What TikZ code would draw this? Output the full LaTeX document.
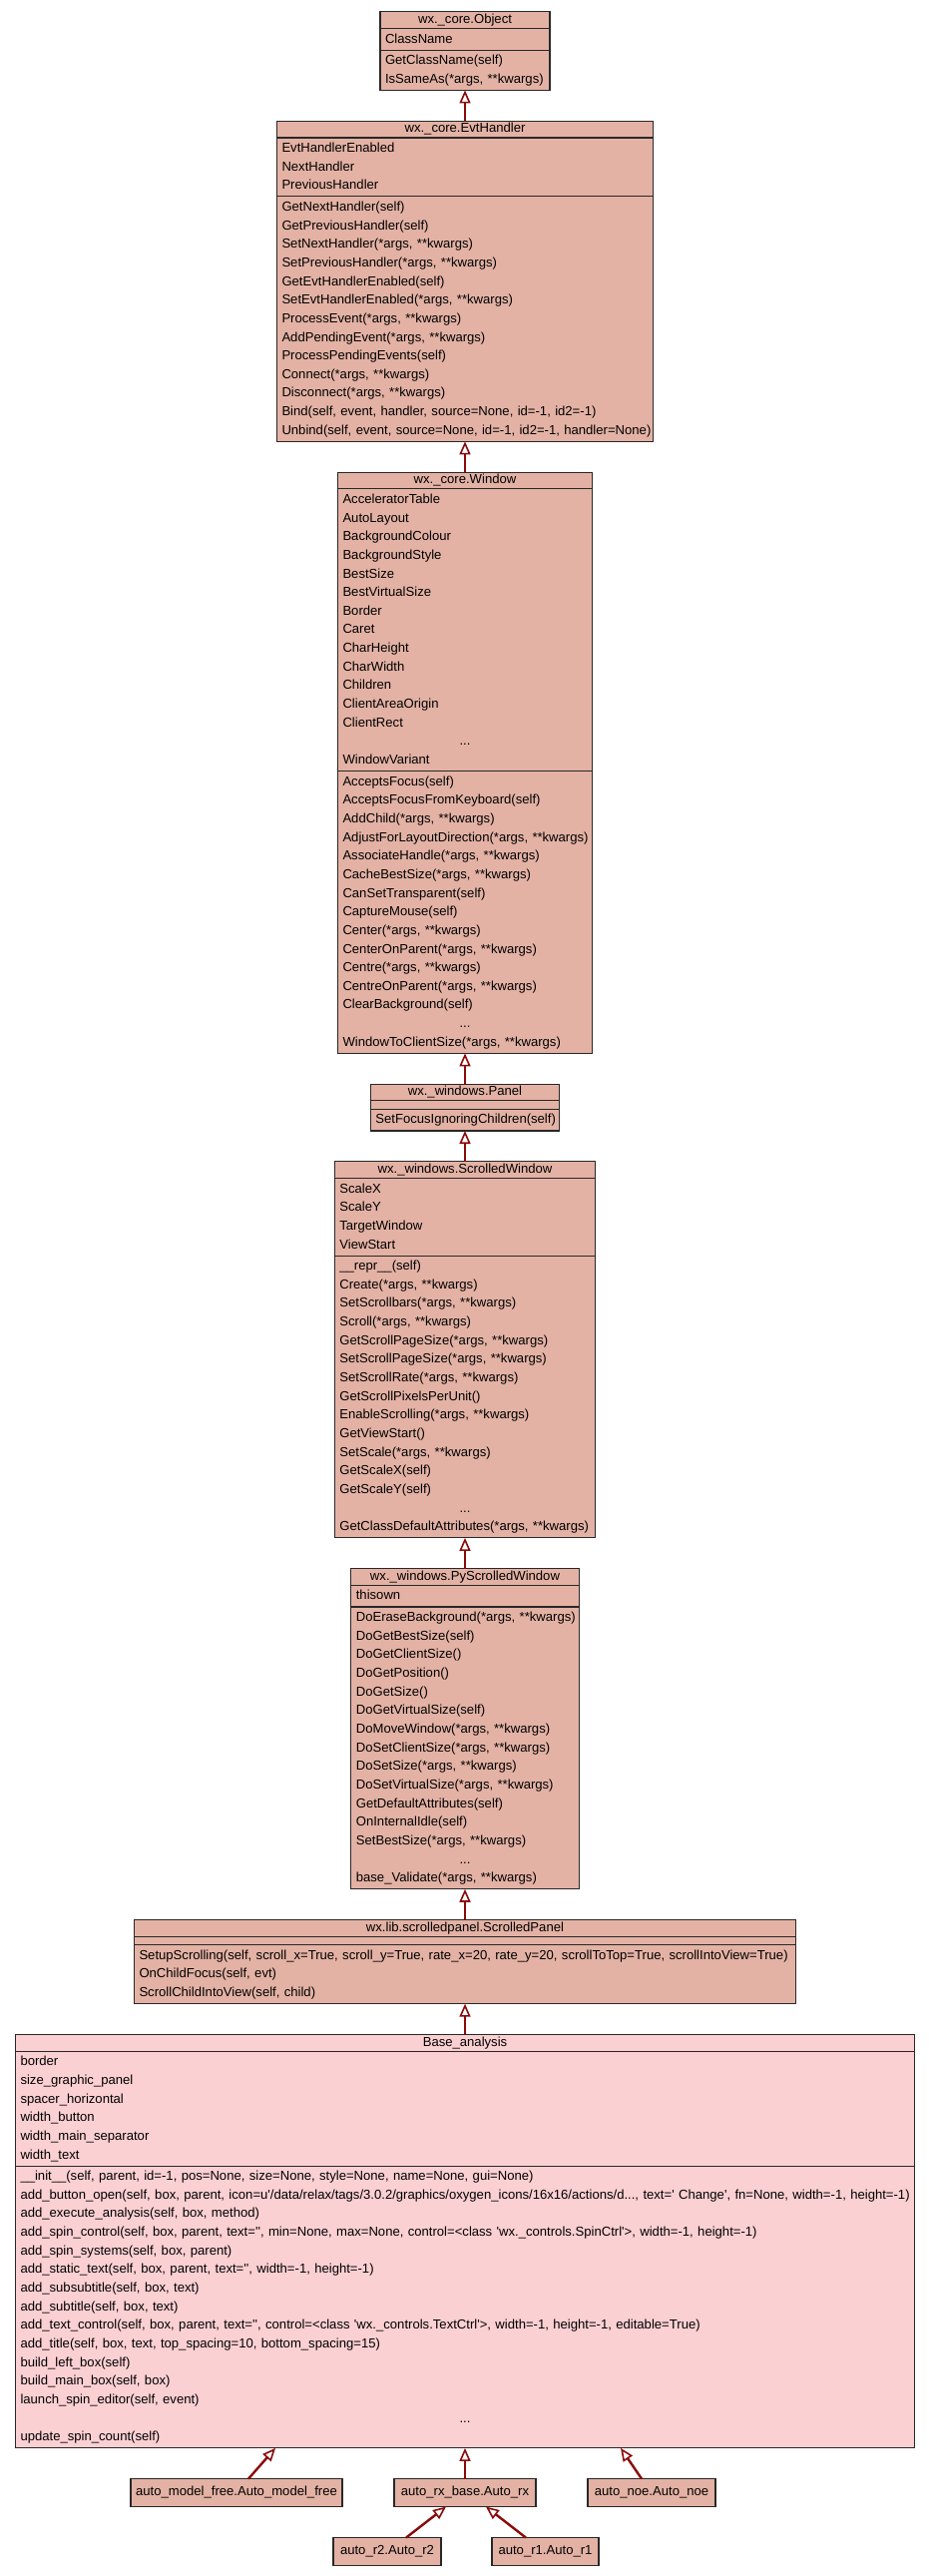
\documentclass[tikz,border=0pt]{standalone}
\usepackage{fontspec}
\newfontfamily\umlfont{Liberation Sans}
\usetikzlibrary{arrows.meta,positioning}
\definecolor{classfill}{RGB}{227,178,164}
\definecolor{basefill}{RGB}{251,208,211}
\definecolor{inhred}{RGB}{139,10,10}
\definecolor{edge}{RGB}{40,40,40}
\newcommand{\akw}{(*args, **kwargs)}
\newcommand{\elide}{\makebox[\hsize]{...}}
\tikzset{
  cls/.style={draw=edge,line width=1.1pt,fill=classfill,inner xsep=5pt,inner ysep=0pt,outer sep=0pt,font=\umlfont\fontsize{13.1}{18.65}\selectfont},
  ctitle/.style={cls,minimum height=16.8pt,text height=9.5pt,text depth=3pt},
  cempty/.style={cls,minimum height=8.5pt},
  cbody/.style={cls,execute at begin node={\parindent=0pt\rightskip=-30pt plus 1fil\relax\leavevmode\strut},execute at end node={\strut}},
  leaf/.style={cls,minimum height=28pt,text height=9.5pt,text depth=3pt},
  base/.style={fill=basefill},
  inh/.style={draw=inhred,line width=2.4pt,-{Triangle[open,length=13pt,width=11pt,line width=1.6pt]}}
}

\begin{document}
\begin{tikzpicture}[x=1pt,y=-1pt,node distance=30.7pt]
  \useasboundingbox (0,0) rectangle (931,2581);
  % wx._core.Object
  \node[ctitle,minimum width=170pt,anchor=north] (objt) at (466,11.7) {wx.\_core.Object};
  \node[cbody,text width=160pt,minimum height=21.65pt,below=0pt of objt] (obja) {ClassName};
  \node[cbody,text width=160pt,minimum height=40.3pt,below=0pt of obja] (objm) {GetClassName(self)\\IsSameAs\akw};
  % wx._core.EvtHandler
  \node[ctitle,minimum width=377pt,below=of objm] (evtt) {wx.\_core.EvtHandler};
  \node[cbody,text width=367pt,minimum height=58.95pt,below=0pt of evtt] (evta) {EvtHandlerEnabled\\NextHandler\\PreviousHandler};
  \node[cbody,text width=367pt,minimum height=245.45pt,below=0pt of evta] (evtm) {GetNextHandler(self)\\GetPreviousHandler(self)\\SetNextHandler\akw\\SetPreviousHandler\akw\\GetEvtHandlerEnabled(self)\\SetEvtHandlerEnabled\akw\\ProcessEvent\akw\\AddPendingEvent\akw\\ProcessPendingEvents(self)\\Connect\akw\\Disconnect\akw\\Bind(self, event, handler, source=None, id=-1, id2=-1)\\Unbind(self, event, source=None, id=-1, id2=-1, handler=None)};
  % wx._core.Window
  \node[ctitle,minimum width=255pt,below=of evtm] (wint) {wx.\_core.Window};
  \node[cbody,text width=245pt,minimum height=282.75pt,below=0pt of wint] (wina) {AcceleratorTable\\AutoLayout\\BackgroundColour\\BackgroundStyle\\BestSize\\BestVirtualSize\\Border\\Caret\\CharHeight\\CharWidth\\Children\\ClientAreaOrigin\\ClientRect\\\elide\\WindowVariant};
  \node[cbody,text width=245pt,minimum height=282.75pt,below=0pt of wina] (winm) {AcceptsFocus(self)\\AcceptsFocusFromKeyboard(self)\\AddChild\akw\\AdjustForLayoutDirection\akw\\AssociateHandle\akw\\CacheBestSize\akw\\CanSetTransparent(self)\\CaptureMouse(self)\\Center\akw\\CenterOnParent\akw\\Centre\akw\\CentreOnParent\akw\\ClearBackground(self)\\\elide\\WindowToClientSize\akw};
  % wx._windows.Panel
  \node[ctitle,minimum width=189.3pt,below=of winm] (pnlt) {wx.\_windows.Panel};
  \node[cempty,minimum width=189.3pt,below=0pt of pnlt] (pnla) {};
  \node[cbody,text width=179.3pt,minimum height=21.65pt,below=0pt of pnla] (pnlm) {SetFocusIgnoringChildren(self)};
  % wx._windows.ScrolledWindow
  \node[ctitle,minimum width=261.3pt,below=of pnlm] (swt) {wx.\_windows.ScrolledWindow};
  \node[cbody,text width=251.3pt,minimum height=77.6pt,below=0pt of swt] (swa) {ScaleX\\ScaleY\\TargetWindow\\ViewStart};
  \node[cbody,text width=251.3pt,minimum height=282.75pt,below=0pt of swa] (swm) {\_\_repr\_\_(self)\\Create\akw\\SetScrollbars\akw\\Scroll\akw\\GetScrollPageSize\akw\\SetScrollPageSize\akw\\SetScrollRate\akw\\GetScrollPixelsPerUnit()\\EnableScrolling\akw\\GetViewStart()\\SetScale\akw\\GetScaleX(self)\\GetScaleY(self)\\\elide\\GetClassDefaultAttributes\akw};
  % wx._windows.PyScrolledWindow
  \node[ctitle,minimum width=228.3pt,below=of swm] (pswt) {wx.\_windows.PyScrolledWindow};
  \node[cbody,text width=218.3pt,minimum height=21.65pt,below=0pt of pswt] (pswa) {thisown};
  \node[cbody,text width=218.3pt,minimum height=282.75pt,below=0pt of pswa] (pswm) {DoEraseBackground\akw\\DoGetBestSize(self)\\DoGetClientSize()\\DoGetPosition()\\DoGetSize()\\DoGetVirtualSize(self)\\DoMoveWindow\akw\\DoSetClientSize\akw\\DoSetSize\akw\\DoSetVirtualSize\akw\\GetDefaultAttributes(self)\\OnInternalIdle(self)\\SetBestSize\akw\\\elide\\base\_Validate\akw};
  % wx.lib.scrolledpanel.ScrolledPanel
  \node[ctitle,minimum width=663pt,below=of pswm] (spt) {wx.lib.scrolledpanel.ScrolledPanel};
  \node[cempty,minimum width=663pt,below=0pt of spt] (spa) {};
  \node[cbody,text width=653pt,minimum height=58.95pt,below=0pt of spa] (spm) {SetupScrolling(self, scroll\_x=True, scroll\_y=True, rate\_x=20, rate\_y=20, scrollToTop=True, scrollIntoView=True)\\OnChildFocus(self, evt)\\ScrollChildIntoView(self, child)};
  % Base_analysis
  \node[ctitle,base,minimum width=901pt,below=of spm] (bast) {Base\_analysis};
  \node[cbody,base,text width=891pt,minimum height=114.9pt,below=0pt of bast] (basa) {border\\size\_graphic\_panel\\spacer\_horizontal\\width\_button\\width\_main\_separator\\width\_text};
  \node[cbody,base,text width=891pt,minimum height=282.75pt,below=0pt of basa] (basm) {\_\_init\_\_(self, parent, id=-1, pos=None, size=None, style=None, name=None, gui=None)\\add\_button\_open(self, box, parent, icon=u'/data/relax/tags/3.0.2/graphics/oxygen\_icons/16x16/actions/d..., text=' Change', fn=None, width=-1, height=-1)\\add\_execute\_analysis(self, box, method)\\add\_spin\_control(self, box, parent, text='', min=None, max=None, control=<class 'wx.\_controls.SpinCtrl'>, width=-1, height=-1)\\add\_spin\_systems(self, box, parent)\\add\_static\_text(self, box, parent, text='', width=-1, height=-1)\\add\_subsubtitle(self, box, text)\\add\_subtitle(self, box, text)\\add\_text\_control(self, box, parent, text='', control=<class 'wx.\_controls.TextCtrl'>, width=-1, height=-1, editable=True)\\add\_title(self, box, text, top\_spacing=10, bottom\_spacing=15)\\build\_left\_box(self)\\build\_main\_box(self, box)\\launch\_spin\_editor(self, event)\\\elide\\update\_spin\_count(self)};
  % subclasses
  \node[leaf,minimum width=142pt,below=of basm] (rx) {auto\_rx\_base.Auto\_rx};
  \node[leaf,minimum width=212pt,left=52pt of rx] (mf) {auto\_model\_free.Auto\_model\_free};
  \node[leaf,minimum width=128pt,right=52pt of rx] (noe) {auto\_noe.Auto\_noe};
  \node[leaf,minimum width=108pt,below=31pt of rx,xshift=-78pt] (rtwo) {auto\_r2.Auto\_r2};
  \node[leaf,minimum width=107pt,below=31pt of rx,xshift=80.5pt] (rone) {auto\_r1.Auto\_r1};
  % inheritance
  \draw[inh] (evtt.north) -- (objm.south);
  \draw[inh] (wint.north) -- (evtm.south);
  \draw[inh] (pnlt.north) -- (winm.south);
  \draw[inh] (swt.north) -- (pnlm.south);
  \draw[inh] (pswt.north) -- (swm.south);
  \draw[inh] (spt.north) -- (pswm.south);
  \draw[inh] (bast.north) -- (spm.south);
  \draw[inh] ([xshift=12pt]mf.north) -- ([xshift=-190pt]basm.south);
  \draw[inh] (rx.north) -- (basm.south);
  \draw[inh] ([xshift=-10pt]noe.north) -- ([xshift=156pt]basm.south);
  \draw[inh] ([xshift=19pt]rtwo.north) -- ([xshift=-19pt]rx.south);
  \draw[inh] ([xshift=-19.5pt]rone.north) -- ([xshift=21pt]rx.south);
\end{tikzpicture}
\end{document}
